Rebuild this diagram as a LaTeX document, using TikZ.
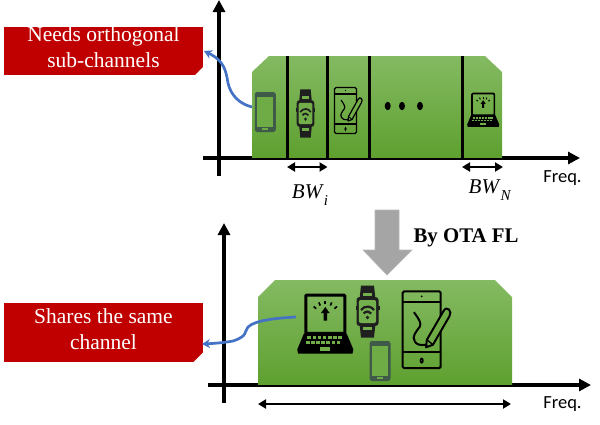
\documentclass[tikz,border=0pt]{standalone}
\usepackage{fontspec}
\setmainfont{Liberation Serif}
\newfontfamily\sansf{Carlito}
\usetikzlibrary{arrows.meta,calc}
\definecolor{redbox}{HTML}{C00000}
\definecolor{bluec}{HTML}{4472C4}
\definecolor{grayarrow}{HTML}{A5A5A5}
\definecolor{greentop}{HTML}{84BA62}
\definecolor{greenbot}{HTML}{5EA02F}
\definecolor{darkicon}{HTML}{3F5A48}
\newcommand{\bwlabel}[1]{\textit{BW}\raisebox{-.3em}{\fontsize{15}{15}\selectfont\textit{#1}}}
\tikzset{
 axis/.style={line width=4pt,-{Triangle[length=12pt,width=12pt]}},
 divider/.style={line width=3pt},
 bwarrow/.style={line width=2.4pt,{Triangle[length=8pt,width=9pt]}-{Triangle[length=8pt,width=9pt]}},
 bandshade/.style={top color=greentop,bottom color=greenbot,draw=none},
 redlabel/.style={text=white,align=center,inner sep=0pt,font=\fontsize{21.5}{26}\selectfont},
 curve/.style={draw=bluec,line width=2.7pt,-{Stealth[length=8pt,width=9pt]}},
 freq/.style={font=\sansf\fontsize{18.5}{20}\selectfont,inner sep=0pt},
 bw/.style={font=\fontsize{21}{22}\selectfont,inner sep=0pt},
 pics/phoneicon/.style={code={
  \fill[rounded corners=2.5pt,darkicon] (-10.5,-20) rectangle (10.5,20);
  \fill[#1] (-8,-15.5) rectangle (8,14.5);
  \fill[#1] (-3,16.3) rectangle (3,17.8);
 }},
 pics/watchicon/.style={code={
  \fill[black!88] (-6.5,-26) -- (6.5,-26) -- (8,-12) -- (-8,-12) -- cycle;
  \fill[black!88] (-6.5,26) -- (6.5,26) -- (8,12) -- (-8,12) -- cycle;
  \fill[black!88,rounded corners=3pt] (-11,-14.5) rectangle (11,14.5);
  \fill[black!88] (-12,-6) rectangle (12,-2);
  \fill[#1,rounded corners=2pt] (-8.6,-11.5) rectangle (8.6,11.5);
  \fill[#1] (-4.5,-18.5) rectangle (4.5,-15.5);
  \fill[#1] (-4.5,15.5) rectangle (4.5,18.5);
  \draw[black!88,line width=\lwf pt] (-6.5,-1.5) arc[start angle=215,end angle=325,radius=8];
  \draw[black!88,line width=\lwf pt] (-3.8,2) arc[start angle=215,end angle=325,radius=4.6];
  \fill[black!88] (0,6) circle (1.9);
 }},
 pics/tableticon/.style={code={
  \draw[black,line width=\lwf pt,rounded corners=1.5pt] (-11,-23) rectangle (11,23);
  \draw[black,line width=\lwf pt] (-11,-16.5) -- (11,-16.5) (-11,13.5) -- (11,13.5);
  \fill[black] (0,-20) circle (.6);
  \draw[black,line width=.8*\lwf pt] (0,18.5) ellipse (.7 and 1.3);
  \draw[black,line width=\lwf pt] (-4.5,-10.5) .. controls (-2,-7) and (0,-4) .. (-1,-2) .. controls (-3,1) and (-6,4) .. (-4,7) .. controls (-3,9) and (-1,9.5) .. (3,9);
  \fill[#1] (2.5,10.5) -- (3,6) -- (12.5,-11) .. controls (14.5,-15) and (18,-11) .. (16,-8) -- (6.5,9) -- cycle;
  \draw[black,line width=\lwf pt,line join=round] (2.5,10.5) -- (3,6) -- (12.5,-11) .. controls (14.5,-15) and (18,-11) .. (16,-8) -- (6.5,9) -- cycle;
  \draw[black,line width=.7*\lwf pt] (3,6) -- (6.5,9);
 }},
 pics/laptopicon/.style={code={
  \draw[black,line width=\lwf pt,rounded corners=1pt] (-11.5,-13.5) rectangle (11.5,9);
  \fill[black] (-12.5,9) -- (12.5,9) -- (16.5,18.5) -- (16,21) -- (-16,21) -- (-16.5,18.5) -- cycle;
  \foreach \i in {-10.5,-7.5,...,9}{\fill[#1] (\i,10.8) rectangle (\i+2.2,12.4);\fill[#1] (\i-.8,13.6) rectangle (\i+1.4,15.2);}
  \fill[#1] (-3,17.2) rectangle (3,19.4);
  \fill[black] (0,-6.5) -- (2.6,-2.8) -- (1,-2.8) -- (1,1.5) -- (-1,1.5) -- (-1,-2.8) -- (-2.6,-2.8) -- cycle;
  \foreach \a in {-50,-25,0,25,50}{\draw[black,line width=.55*\lwf pt] ($(0,-1)+(\a-90:7)$) -- ($(0,-1)+(\a-90:9)$);}
 }},
}
\begin{document}
\begin{tikzpicture}[x=1pt,y=-1pt]
\useasboundingbox (0,0) rectangle (600,424);
% top panel
\coordinate (ax1b) at (219,176); \coordinate (ax1t) at (219,0);
\coordinate (ax1l) at (203,158); \coordinate (ax1r) at (580,158);
\draw[axis] (ax1b) -- (ax1t);
\draw[axis] (ax1l) -- (ax1r);
\path[bandshade] (252,158.5) -- (252,72) -- (269,56) -- (485,56) -- (502,72) -- (502,158.5) -- cycle;
\draw[black,line width=1.2pt] (252,159) -- (502,159);
\foreach \x in {287,327.5,369.5,462}{\draw[divider] (\x,56) -- (\x,158);}
\def\lwf{1}
\pic at (265.3,112) {phoneicon=greentop!45!greenbot};
\def\lwf{1.7}
\pic at (305.5,113.5) [xscale=.8,yscale=.93] {watchicon=greentop!50!greenbot};
\def\lwf{1.2}
\pic at (345.5,110.5) {tableticon=greentop!50!greenbot};
\def\lwf{1.7}
\pic at (483.2,106.5) [scale=.97] {laptopicon=greentop!50!greenbot};
\fill (387.7,106) ellipse (3 and 4.2);
\fill (402,106) ellipse (3 and 4.2);
\fill (420,106) ellipse (3 and 4.2);
\coordinate (bwia) at (287,167); \coordinate (bwib) at (327.5,167);
\coordinate (bwna) at (462,167); \coordinate (bwnb) at (503,167);
\draw[bwarrow] (bwia) -- (bwib);
\draw[bwarrow] (bwna) -- (bwnb);
\node[bw] (bwi) at (310,195) {\bwlabel{i}};
\node[bw] (bwn) at (490,190) {\bwlabel{N}};
\node[freq] (f1) at (562.5,178) {Freq.};
\fill[redbox] (4,27) rectangle (203,75);
\node[redlabel] (need) at (103.5,47.5) {Needs orthogonal\\sub-channels};
\coordinate (c1) at (252,107); \coordinate (c1e) at (204,51);
\draw[curve] (c1) .. controls (240,104) and (231,96) .. (228,83) .. controls (226,72) and (225,61) .. (c1e);
\fill[white] (195.5,75.5) -- (203.5,68) -- (203.5,75.5) -- cycle;
\fill[white] (198,75.5) -- (194.5,75.5) -- (203.5,66.5) -- (203.5,70) -- cycle;
\fill[redbox] (197,72.7) -- (197.8,69.5) -- (200,68.5) -- cycle;
% gray arrow
\path[fill=grayarrow,draw=grayarrow!80!white,line width=.6pt] (375,210) -- (399,210) -- (399,250) -- (412,250) -- (387,275) -- (363,250) -- (375,250) -- cycle;
\node[font=\bfseries\fontsize{20.8}{22}\selectfont,inner sep=0pt] (ota) at (466,238) {By OTA FL};
% bottom panel
\coordinate (ax2b) at (224,403); \coordinate (ax2t) at (224,223);
\coordinate (ax2l) at (208,385); \coordinate (ax2r) at (591,385);
\draw[axis] (ax2b) -- (ax2t);
\draw[axis] (ax2l) -- (ax2r);
\path[bandshade] (258,385.5) -- (258,297) -- (275,280) -- (495,280) -- (512,297) -- (512,385.5) -- cycle;
\draw[black,line width=1.2pt] (258,386) -- (512,386);
\def\lwf{3}
\pic at (325.3,318) [scale=1.7] {laptopicon=greentop!50!greenbot};
\def\lwf{2.2}
\pic at (367.5,311.5) {watchicon=greentop!60!greenbot};
\def\lwf{1}
\pic at (380,361) {phoneicon=greentop!45!greenbot};
\def\lwf{2}
\pic at (421.7,329.7) [xscale=1.73,yscale=1.67] {tableticon=greentop!45!greenbot};
\coordinate (arl) at (258,404); \coordinate (arr) at (511,404);
\draw[line width=2.4pt,{Triangle[length=8pt,width=9pt]}-{Triangle[length=8pt,width=9pt]}] (arl) -- (arr);
\node[freq] (f2) at (562.5,404) {Freq.};
\fill[redbox] (4,303) rectangle (203,362);
\node[redlabel] (share) at (103.5,329) {Shares the same\\channel};
\coordinate (c2) at (296,317); \coordinate (c2e) at (202,344);
\draw[curve] (c2) .. controls (278,318) and (255,320) .. (248,327) .. controls (244,332) and (248,336) .. (233,341) .. controls (222,343) and (212,343.5) .. (c2e);
\fill[white] (193,362.5) -- (203.5,352) -- (203.5,362.5) -- cycle;
\fill[redbox] (195.5,359) -- (197,355) -- (201,353.5) -- cycle;
\end{tikzpicture}
\end{document}
